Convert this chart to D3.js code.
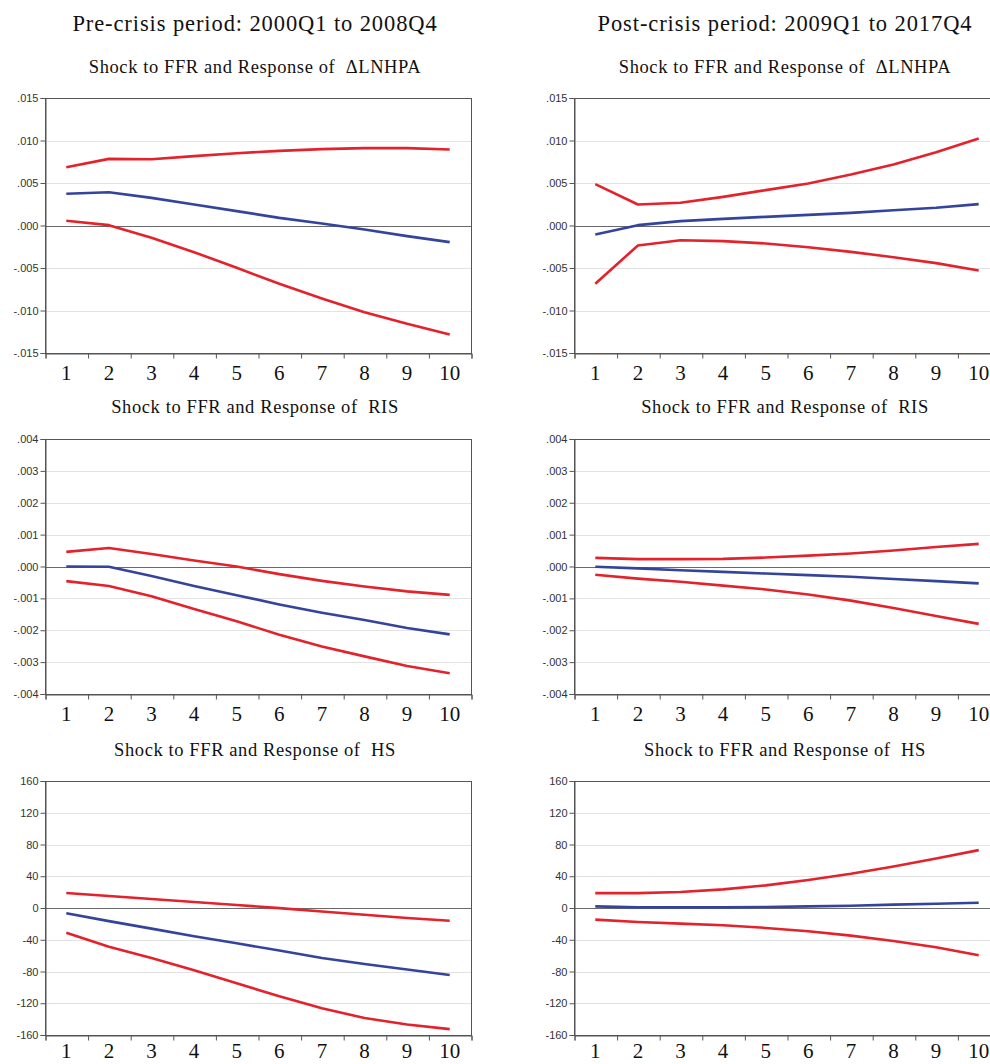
<!DOCTYPE html>
<html><head><meta charset="utf-8">
<script src="https://cdn.jsdelivr.net/npm/d3@7"></script>
<style>html,body{margin:0;padding:0;background:#fff;} svg{display:block;}</style>
</head><body>
<svg id="chart" width="990" height="1064"></svg>
<script>
// ---------- DATA ----------
const periods = [1,2,3,4,5,6,7,8,9,10];

const preLnhpaUpper = [0.00686,0.00784,0.0078,0.00816,0.0085,0.00878,0.00898,0.0091,0.0091,0.00894];
const preLnhpaIrf   = [0.00373,0.00392,0.00325,0.00247,0.00169,0.0009,0.00024,-0.00047,-0.00125,-0.00196];
const preLnhpaLower = [0.00055,0.00004,-0.00145,-0.00314,-0.00498,-0.00686,-0.00859,-0.0102,-0.01157,-0.01282];

const postLnhpaUpper = [0.00486,0.00247,0.00267,0.00337,0.00416,0.00494,0.006,0.00718,0.00863,0.01024];
const postLnhpaIrf   = [-0.00106,0.00004,0.00051,0.00078,0.00102,0.00125,0.00149,0.0018,0.00208,0.00251];
const postLnhpaLower = [-0.00686,-0.00235,-0.00173,-0.00184,-0.00212,-0.00255,-0.0031,-0.00373,-0.00443,-0.00529];

const preRisUpper = [0.00046,0.00058,0.00039,0.00019,0.0,-0.00024,-0.00045,-0.00063,-0.00078,-0.00089];
const preRisIrf   = [0.0,-0.00001,-0.0003,-0.00061,-0.0009,-0.00119,-0.00145,-0.00168,-0.00193,-0.00213];
const preRisLower = [-0.00046,-0.00061,-0.00093,-0.00133,-0.00172,-0.00214,-0.00251,-0.00282,-0.00312,-0.00335];

const postRisUpper = [0.00027,0.00023,0.00023,0.00024,0.00028,0.00034,0.00041,0.0005,0.00061,0.00071];
const postRisIrf   = [-0.00001,-0.00006,-0.00012,-0.00017,-0.00022,-0.00027,-0.00032,-0.00039,-0.00046,-0.00053];
const postRisLower = [-0.00026,-0.00038,-0.00048,-0.0006,-0.00072,-0.00088,-0.00107,-0.0013,-0.00155,-0.0018];

const preHsUpper = [18.8,15.1,11.3,7.5,3.8,-0.2,-4.5,-8.5,-12.5,-16.1];
const preHsIrf   = [-6.6,-16.5,-26,-35.5,-44.5,-53.6,-63.1,-70.5,-77.5,-84.5];
const preHsLower = [-31.3,-48.7,-63,-78.4,-94.8,-111.3,-126.2,-138.6,-146.8,-152.6];

const postHsUpper = [18.8,18.8,20.1,23.5,28.5,35.2,43.1,52.4,62.4,72.9];
const postHsIrf   = [2.1,0.8,0.8,0.8,1.3,2.1,2.9,4.2,5.4,6.7];
const postHsLower = [-14.7,-17.6,-19.7,-21.8,-25.1,-29.3,-34.8,-41.5,-49.4,-59.5];

const lnhpaTicks = [0.015,0.010,0.005,0,-0.005,-0.010,-0.015];
const lnhpaTickLabels = [".015",".010",".005",".000","-.005","-.010","-.015"];
const risTicks = [0.004,0.003,0.002,0.001,0,-0.001,-0.002,-0.003,-0.004];
const risTickLabels = [".004",".003",".002",".001",".000","-.001","-.002","-.003","-.004"];
const hsTicks = [160,120,80,40,0,-40,-80,-120,-160];
const hsTickLabels = ["160","120","80","40","0","-40","-80","-120","-160"];

const columnTitles = ["Pre-crisis period: 2000Q1 to 2008Q4","Post-crisis period: 2009Q1 to 2017Q4"];
const panelTitles = ["Shock to FFR and Response of  \u0394LNHPA","Shock to FFR and Response of  RIS","Shock to FFR and Response of  HS"];

// ---------- LAYOUT ----------
const svg = d3.select("#chart");
svg.append("rect").attr("width",990).attr("height",1064).attr("fill","#fff");

const cols = [{x0:45, cx:255},{x0:574, cx:785}];
const plotW = 426;
const rows = [{y0:98, y1:353, ty:73, lab:27},{y0:439, y1:694, ty:413, lab:27},{y0:781, y1:1035, ty:756, lab:23}];

const RED = "#e3222b", BLUE = "#34449c";
const SERIF = "'Liberation Serif','Times New Roman',serif";

const panels = [
  {r:0,c:0, ticks:lnhpaTicks, labels:lnhpaTickLabels, series:[preLnhpaUpper,preLnhpaLower,preLnhpaIrf]},
  {r:0,c:1, ticks:lnhpaTicks, labels:lnhpaTickLabels, series:[postLnhpaUpper,postLnhpaLower,postLnhpaIrf]},
  {r:1,c:0, ticks:risTicks, labels:risTickLabels, series:[preRisUpper,preRisLower,preRisIrf]},
  {r:1,c:1, ticks:risTicks, labels:risTickLabels, series:[postRisUpper,postRisLower,postRisIrf]},
  {r:2,c:0, ticks:hsTicks, labels:hsTickLabels, series:[preHsUpper,preHsLower,preHsIrf]},
  {r:2,c:1, ticks:hsTicks, labels:hsTickLabels, series:[postHsUpper,postHsLower,postHsIrf]}
];

// column titles
columnTitles.forEach((t,i)=>{
  svg.append("text").attr("x",cols[i].cx).attr("y",31).attr("text-anchor","middle")
    .attr("font-family",SERIF).attr("font-size",22.5).attr("letter-spacing","0.9px")
    .attr("fill","#111").text(t);
});

panels.forEach(p=>{
  const col = cols[p.c], row = rows[p.r];
  const g = svg.append("g");
  const xBand = d3.scaleBand().domain(periods).range([col.x0, col.x0+plotW]);
  const x = d => xBand(d) + xBand.bandwidth()/2;
  const ext = d3.extent(p.ticks);
  const y = d3.scaleLinear().domain(ext).range([row.y1, row.y0]);

  // subtitle
  g.append("text").attr("x",col.cx).attr("y",row.ty).attr("text-anchor","middle")
    .attr("font-family",SERIF).attr("font-size",18.5).attr("letter-spacing","0.6px")
    .attr("fill","#111").style("white-space","pre").text(panelTitles[p.r]);

  // gridlines
  g.selectAll(".grid").data(p.ticks.filter(t=>t!==ext[0] && t!==ext[1] && t!==0)).enter()
    .append("line").attr("x1",col.x0).attr("x2",col.x0+plotW)
    .attr("y1",d=>Math.round(y(d))+0.5).attr("y2",d=>Math.round(y(d))+0.5)
    .attr("stroke","#e2e2e2").attr("stroke-width",1);
  // zero line
  g.append("line").attr("x1",col.x0).attr("x2",col.x0+plotW)
    .attr("y1",Math.round(y(0))+0.5).attr("y2",Math.round(y(0))+0.5)
    .attr("stroke","#6a6a6a").attr("stroke-width",1);

  // frame
  g.append("rect").attr("x",col.x0+0.5).attr("y",row.y0+0.5).attr("width",plotW).attr("height",row.y1-row.y0)
    .attr("fill","none").attr("stroke","#555").attr("stroke-width",1);

  // y axis
  const yAxis = d3.axisLeft(y).tickValues(p.ticks).tickSize(5).tickPadding(2)
    .tickFormat((d,i)=>p.labels[i]);
  const ya = g.append("g").attr("transform",`translate(${col.x0+0.5},0)`).call(yAxis);
  ya.select(".domain").attr("stroke","#555");
  ya.selectAll(".tick line").attr("stroke","#555");
  ya.selectAll(".tick text").attr("font-family","Arial,'Liberation Sans',sans-serif").attr("font-size",11).attr("fill","#333");

  // x axis: ticks at band boundaries, labels at centres
  const xb = d3.scaleLinear().domain([0,10]).range([col.x0, col.x0+plotW]);
  const xAxis = d3.axisBottom(xb).tickValues(d3.range(0,11)).tickSize(5).tickFormat("");
  const xa = g.append("g").attr("transform",`translate(0.5,${row.y1+0.5})`).call(xAxis);
  xa.select(".domain").attr("stroke","#555");
  xa.selectAll(".tick line").attr("stroke","#555");
  g.selectAll(".xl").data(periods).enter().append("text")
    .attr("x",d=>x(d)).attr("y",row.y1+row.lab).attr("text-anchor","middle")
    .attr("font-family",SERIF).attr("font-size",21)
    .attr("fill","#111").text(d=>d);

  // lines
  const line = d3.line().x((d,i)=>x(periods[i])).y(d=>y(d));
  p.series.forEach((s,i)=>{
    g.append("path").datum(s).attr("d",line).attr("fill","none")
      .attr("stroke", i<2?RED:BLUE).attr("stroke-width",2.6).attr("stroke-linejoin","round");
  });
});
</script>
</body></html>
